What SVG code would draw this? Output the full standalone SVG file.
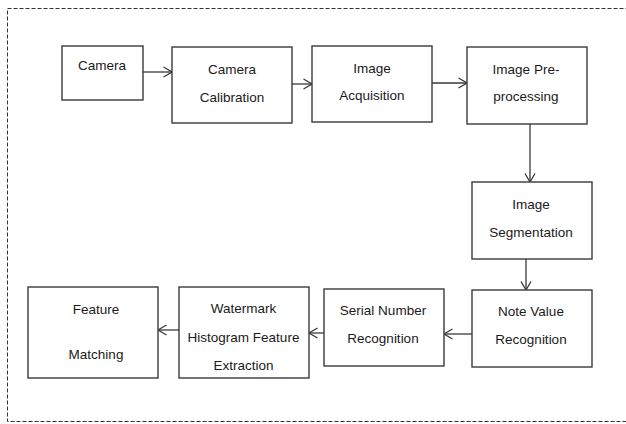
<svg xmlns="http://www.w3.org/2000/svg" width="626" height="424" viewBox="0 0 626 424">
<defs>
<marker id="arr" viewBox="0 0 10 12" refX="9.5" refY="6" markerWidth="10" markerHeight="12" markerUnits="userSpaceOnUse" orient="auto">
<path d="M1,1 L9.5,6 L1,11" fill="none" stroke="#3a3a3a" stroke-width="1.3"/>
</marker>
</defs>
<style>
.box{fill:#fff;stroke:#3a3a3a;stroke-width:1.4}
.t{font-family:"Liberation Sans",Arial,sans-serif;font-size:13.5px;fill:#1a1a1a;text-anchor:middle}
.c{stroke:#3a3a3a;stroke-width:1.3;fill:none;marker-end:url(#arr)}
.frame{fill:none;stroke:#333;stroke-width:1;stroke-dasharray:4 2}
</style>
<rect width="626" height="424" fill="#fff"/>
<rect class="frame" x="7.5" y="8.5" width="640" height="413"/>
<g id="connectors">
<line class="c" x1="143" y1="72" x2="172" y2="72"/>
<line class="c" x1="292" y1="84" x2="312" y2="84"/>
<line class="c" x1="432" y1="83" x2="467" y2="83"/>
<line class="c" x1="530" y1="124" x2="530" y2="182"/>
<line class="c" x1="526" y1="259" x2="526" y2="290"/>
<line class="c" x1="472" y1="334" x2="444" y2="334"/>
<line class="c" x1="324" y1="333" x2="309" y2="333"/>
<line class="c" x1="179" y1="330" x2="158" y2="330"/>
</g>
<g id="camera">
<rect class="box" x="62" y="46" width="81" height="54"/>
<text class="t" x="102" y="70">Camera</text>
</g>
<g id="calibration">
<rect class="box" x="172" y="47" width="120" height="76"/>
<text class="t" x="232" y="74">Camera</text>
<text class="t" x="232" y="101.5">Calibration</text>
</g>
<g id="acquisition">
<rect class="box" x="312" y="46" width="120" height="76"/>
<text class="t" x="372" y="72.5">Image</text>
<text class="t" x="372" y="100">Acquisition</text>
</g>
<g id="preprocessing">
<rect class="box" x="467" y="47" width="120" height="77"/>
<text class="t" x="526" y="73.5">Image Pre-</text>
<text class="t" x="526" y="101">processing</text>
</g>
<g id="segmentation">
<rect class="box" x="472" y="182" width="120" height="77"/>
<text class="t" x="531" y="209">Image</text>
<text class="t" x="531" y="236.5">Segmentation</text>
</g>
<g id="notevalue">
<rect class="box" x="472" y="290" width="120" height="77"/>
<text class="t" x="531" y="316">Note Value</text>
<text class="t" x="531" y="344">Recognition</text>
</g>
<g id="serial">
<rect class="box" x="324" y="289" width="120" height="77"/>
<text class="t" x="383" y="315">Serial Number</text>
<text class="t" x="383" y="342.5">Recognition</text>
</g>
<g id="watermark">
<rect class="box" x="179" y="287" width="130" height="91"/>
<text class="t" x="243.5" y="312.5">Watermark</text>
<text class="t" x="243.5" y="341.5">Histogram Feature</text>
<text class="t" x="243.5" y="370">Extraction</text>
</g>
<g id="matching">
<rect class="box" x="28" y="287" width="130" height="91"/>
<text class="t" x="96" y="313.5">Feature</text>
<text class="t" x="96" y="358.5">Matching</text>
</g>
</svg>
